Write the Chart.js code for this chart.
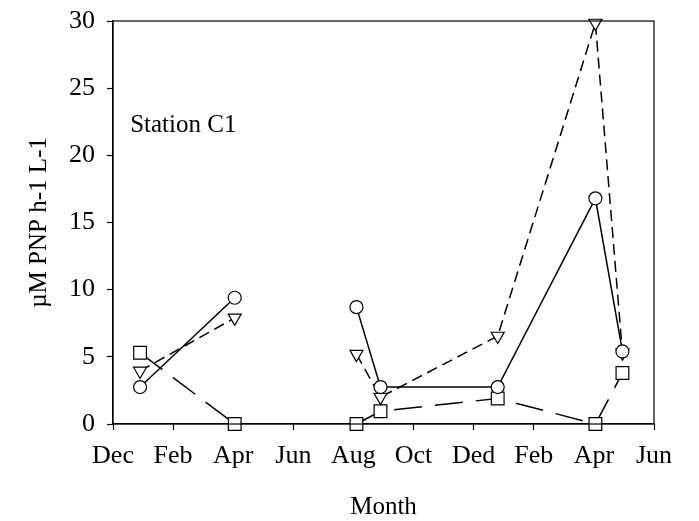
<!DOCTYPE html>
<html>
<head>
<meta charset="utf-8">
<script src="https://cdn.jsdelivr.net/npm/chart.js@4/dist/chart.umd.min.js"></script>
<style>
    body { margin: 0; background: #fff; }
    #wrap { width: 699px; height: 521px; }
</style>
</head>
<body>
<div id="wrap"><canvas id="myChart" width="699" height="521"></canvas></div>
<script>
// months counted from Dec (0) ... Jun of the next year (18)
const monthLabels = ['Dec', 'Feb', 'Apr', 'Jun', 'Aug', 'Oct', 'Ded', 'Feb', 'Apr', 'Jun'];
const sampleMonth = [0.9, 4.05, 6, 8.1, 8.9, 12.8, 16.05, 16.95];

// null = no sampling -> gap in the line
const circles = [2.75, 9.4, null, 8.7, 2.75, 2.75, 16.8, 5.4];
const triangles = [3.95, 7.9, null, 5.2, 2.0, 6.55, 29.85, 5.3];
const squares = [5.3, 0, null, 0, 0.95, 1.9, 0, 3.8];

const yTicks = [0, 5, 10, 15, 20, 25, 30];

const serif = 'Liberation Serif, Times New Roman, serif';

function toPoints(values) {
    return values.map((v, i) => ({ x: sampleMonth[i], y: v }));
}

// box around the plot + the station label
const frame = {
    id: 'frame',
    afterDraw(chart) {
        const { ctx, chartArea } = chart;
        ctx.save();
        ctx.strokeStyle = '#000';
        ctx.lineWidth = 1.2;
        ctx.strokeRect(chartArea.left, chartArea.top, chartArea.right - chartArea.left, chartArea.bottom - chartArea.top);
        ctx.fillStyle = '#000';
        ctx.font = '25px ' + serif;
        ctx.textBaseline = 'alphabetic';
        ctx.fillText('Station C1', chart.scales.x.getPixelForValue(0.57), chart.scales.y.getPixelForValue(21.7));
        ctx.restore();
    }
};

const ctx = document.getElementById('myChart');
const myChart = new Chart(ctx, {
    type: 'line',
    data: {
        datasets: [{
            label: 'circles',
            data: toPoints(circles),
            borderColor: '#000',
            borderWidth: 1.5,
            pointStyle: 'circle',
            pointRadius: 6.5,
            pointBorderWidth: 1.2,
            pointBackgroundColor: '#fff',
            pointBorderColor: '#000'
        }, {
            label: 'triangles',
            data: toPoints(triangles),
            borderColor: '#000',
            borderWidth: 1.5,
            borderDash: [11, 6],
            pointStyle: 'triangle',
            rotation: 180,
            pointRadius: 7.5,
            pointBorderWidth: 1.2,
            pointBackgroundColor: '#fff',
            pointBorderColor: '#000'
        }, {
            label: 'squares',
            data: toPoints(squares),
            borderColor: '#000',
            borderWidth: 1.5,
            borderDash: [28, 13],
            pointStyle: 'rect',
            pointRadius: 9,
            pointBorderWidth: 1.2,
            pointBackgroundColor: '#fff',
            pointBorderColor: '#000'
        }]
    },
    options: {
        responsive: false,
        animation: false,
        spanGaps: false,
        clip: false,
        layout: {
            padding: { top: 21, right: 45, left: 0, bottom: 0 }
        },
        plugins: {
            legend: { display: false },
            tooltip: { enabled: false }
        },
        scales: {
            x: {
                type: 'linear',
                min: 0,
                max: 18,
                afterFit: (scale) => {
                    scale.height = 97;
                    scale.paddingLeft = 0;
                    scale.paddingRight = 0;
                },
                afterBuildTicks: (scale) => {
                    scale.ticks = monthLabels.map((m, i) => ({ value: i * 2 }));
                },
                ticks: {
                    color: '#000',
                    padding: 11,
                    maxRotation: 0,
                    autoSkip: false,
                    font: { family: serif, size: 26 },
                    callback: (v) => monthLabels[v / 2]
                },
                grid: { drawOnChartArea: false, tickLength: 6, color: '#000', tickWidth: 1.2 },
                border: { color: '#000', width: 1.2 },
                title: {
                    display: true,
                    text: 'Month',
                    color: '#000',
                    font: { family: serif, size: 25, lineHeight: 1 },
                    padding: { top: 0, bottom: 1 }
                }
            },
            y: {
                min: 0,
                max: 30,
                afterFit: (scale) => {
                    scale.width = 113;
                    scale.paddingTop = 0;
                    scale.paddingBottom = 0;
                },
                afterBuildTicks: (scale) => {
                    scale.ticks = yTicks.map((v) => ({ value: v }));
                },
                ticks: {
                    color: '#000',
                    padding: 12,
                    font: { family: serif, size: 26 }
                },
                grid: { drawOnChartArea: false, tickLength: 6, color: '#000', tickWidth: 1.2 },
                border: { color: '#000', width: 1.2 },
                title: {
                    display: true,
                    text: 'µM PNP h-1 L-1',
                    color: '#000',
                    font: { family: serif, size: 25, lineHeight: 1 },
                    padding: { top: 27, bottom: 0 }
                }
            }
        }
    },
    plugins: [frame]
});
</script>
</body>
</html>
